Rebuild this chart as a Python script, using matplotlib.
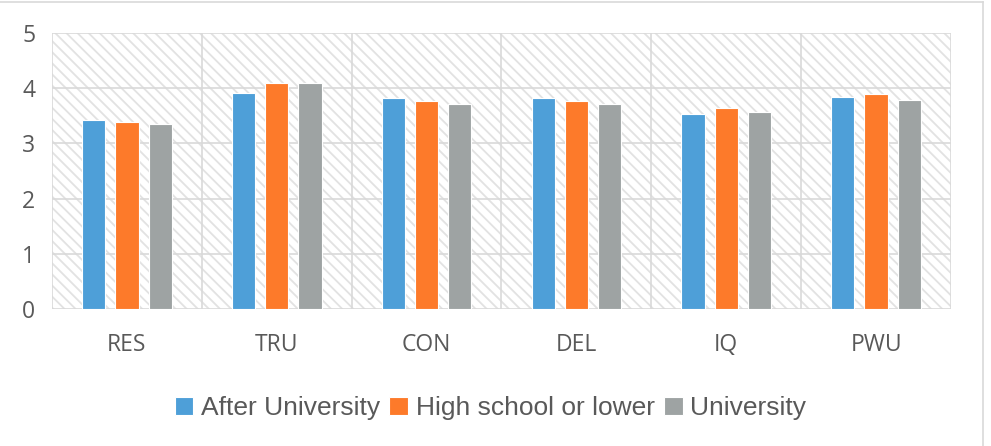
import numpy as np
import matplotlib
matplotlib.use("Agg")
import matplotlib.pyplot as plt
from matplotlib.patches import Rectangle

# =====================
# DATA
# =====================
categories = ["RES", "TRU", "CON", "DEL", "IQ", "PWU"]
after_uni = [3.42, 3.91, 3.83, 3.83, 3.53, 3.84]
high_school = [3.39, 4.10, 3.77, 3.77, 3.64, 3.90]
university = [3.35, 4.10, 3.71, 3.71, 3.57, 3.79]
series_names = ["After University", "High school or lower", "University"]
y_ticks = [0, 1, 2, 3, 4, 5]

colors = ["#4E9FD8", "#FD7A2A", "#9EA3A3"]

plt.rcParams['hatch.linewidth'] = 1.3

fig = plt.figure(figsize=(9.91, 4.46), dpi=100)
ax = fig.add_axes([52 / 991, 1 - 309 / 446, (951 - 52) / 991, (309 - 33) / 446])

x = np.arange(len(categories))
w = 0.155
off = 0.222

# hatched background
ax.add_patch(Rectangle((-0.5, 0), len(categories), 5, facecolor='white',
                       edgecolor='#e2e2e2', linewidth=0, hatch='\\\\\\', zorder=0))

for i, (vals, c) in enumerate(zip([after_uni, high_school, university], colors)):
    ax.bar(x + (i - 1) * off, vals, w, color=c, edgecolor='white', linewidth=0.8,
           label=series_names[i], zorder=3)

ax.set_xlim(-0.5, len(categories) - 0.5)
ax.set_ylim(0, 5)
ax.set_yticks(y_ticks)
ax.set_xticks(x)
ax.set_xticklabels(categories, fontsize=16.5, color='#595959', family='Open Sans')
ax.set_yticklabels([str(t) for t in y_ticks], fontsize=16.5, color='#595959', family='Open Sans')
ax.tick_params(length=0)
ax.tick_params(axis='y', pad=12)
ax.tick_params(axis='x', pad=17)

# grid lines
for t in y_ticks:
    ax.axhline(t, color='#d9d9d9', lw=1.2, zorder=1)
for b in np.arange(-0.5, len(categories), 1):
    ax.axvline(b, color='#d9d9d9', lw=1.2, zorder=1)
for s in ax.spines.values():
    s.set_visible(False)

leg = fig.legend(loc='center', bbox_to_anchor=(0.495, 1 - 408 / 446), ncol=3,
                 frameon=False, prop={'family': 'Liberation Sans', 'size': 19},
                 handlelength=0.7, handleheight=0.7, handletextpad=0.3, columnspacing=0.35)
for t in leg.get_texts():
    t.set_color('#595959')

# outer frame (top and right border)
fig.add_artist(plt.Line2D([0, 983 / 991], [1 - 1.5 / 446, 1 - 1.5 / 446], color='#d9d9d9', lw=1.2))
fig.add_artist(plt.Line2D([983 / 991, 983 / 991], [0, 1 - 1.5 / 446], color='#d9d9d9', lw=1.2))

fig.savefig("out.png", dpi=100)
